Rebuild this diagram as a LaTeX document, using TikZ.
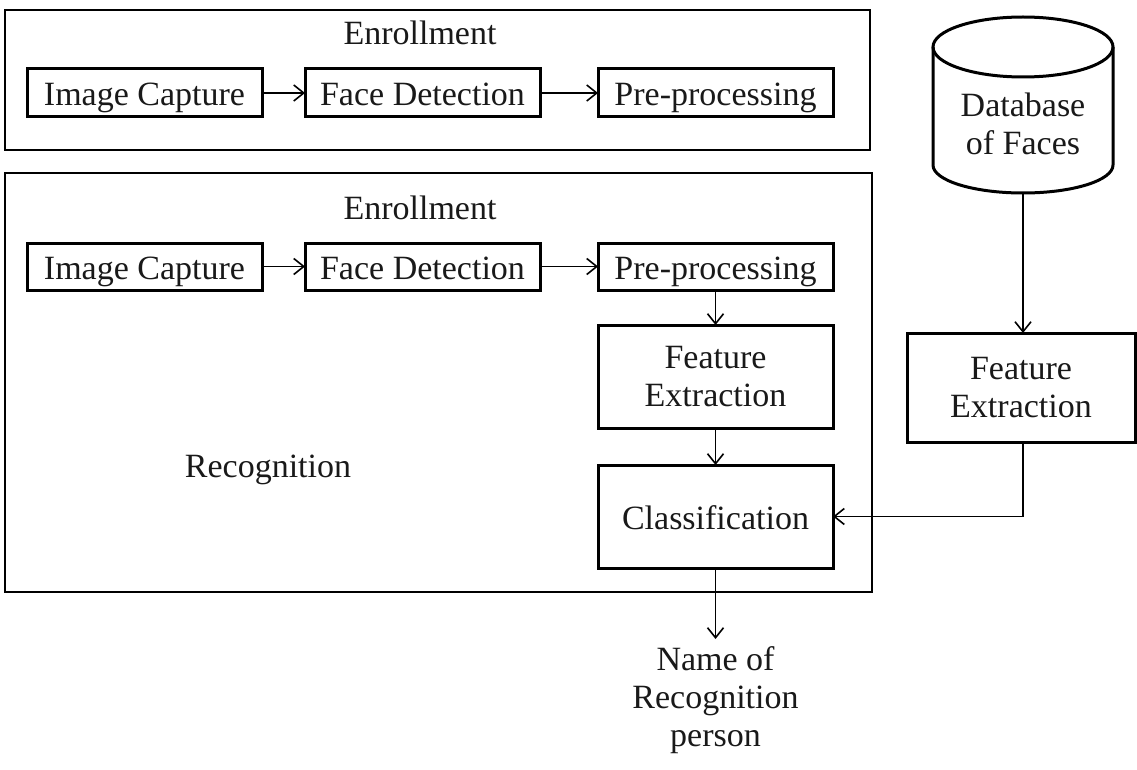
\documentclass[tikz,border=0pt]{standalone}
\usepackage{fontspec}
\setmainfont{Liberation Serif}
\usetikzlibrary{arrows.meta}
\begin{document}
\begin{tikzpicture}[x=1pt,y=-1pt,
  every node/.style={font=\fontsize{34}{38}\selectfont, text=black!90},
  stepbox/.style={draw, line width=3pt, minimum width=235pt, inner sep=0pt, outer sep=0pt, align=center},
  oneline/.style={text height=28pt, text depth=3pt},
  outerbox/.style={draw, line width=2.8pt, inner sep=0pt, outer sep=0pt},
  conn/.style={line width=1.6pt, -{Straight Barb[length=10pt,width=16pt,line width=1.6pt]}},
  lbl/.style={inner sep=0pt, align=center}]
\useasboundingbox (0,0) rectangle (1137,770);
% outer containers
\node[outerbox, minimum width=865pt, minimum height=140pt] (enr) at (437.5,80) {};
\node[outerbox, minimum width=867pt, minimum height=419pt] (rec) at (438.5,382.5) {};
\node[lbl] (enrlbl1) at (420,33) {Enrollment};
\node[lbl] (enrlbl2) at (420,208) {Enrollment};
\node[lbl] (reclbl) at (268,470) {Recognition};
% row 1
\node[stepbox, oneline, minimum height=48pt] (ic1) at (144.5,93) {Image Capture};
\node[stepbox, oneline, minimum height=48pt] (fd1) at (422.5,93) {Face Detection};
\node[stepbox, oneline, minimum height=48pt] (pp1) at (715.5,93) {Pre-processing};
% row 2
\node[stepbox, oneline, minimum height=47pt] (ic2) at (144.5,266.5) {Image Capture};
\node[stepbox, oneline, minimum height=47pt] (fd2) at (422.5,266.5) {Face Detection};
\node[stepbox, oneline, minimum height=47pt] (pp2) at (715.5,266.5) {Pre-processing};
\node[stepbox, minimum height=103pt] (fe) at (715.5,376.5) {Feature\\Extraction};
\node[stepbox, oneline, minimum height=103pt] (cl) at (715.5,516.5) {Classification};
% database cylinder
\draw[line width=3pt] (1023,47) ellipse [x radius=90, y radius=30];
\draw[line width=3pt] (933,47) -- (933,165) arc [start angle=180, end angle=0, x radius=90, y radius=28] -- (1113,47);
\node[lbl] (db) at (1023,124) {Database\\of Faces};
\coordinate (dbb) at (1023,193);
\node[stepbox, minimum width=228pt, minimum height=109pt] (fe2) at (1021,387.5) {Feature\\Extraction};
\node[lbl] (name) at (715.5,700) {Name of\\Recognition\\person};
\coordinate (nametop) at (715.5,639);
\coordinate (corner) at (fe2.south -| dbb);
% connectors
\draw[conn] (ic1) -- (fd1);
\draw[conn] (fd1) -- (pp1);
\draw[conn] (ic2) -- (fd2);
\draw[conn] (fd2) -- (pp2);
\draw[conn] (pp2) -- (fe);
\draw[conn] (fe) -- (cl);
\draw[conn] (cl) -- (nametop);
\draw[conn] (dbb) -- (dbb |- fe2.north);
\draw[conn] (corner) |- (cl.east);
\end{tikzpicture}
\end{document}
